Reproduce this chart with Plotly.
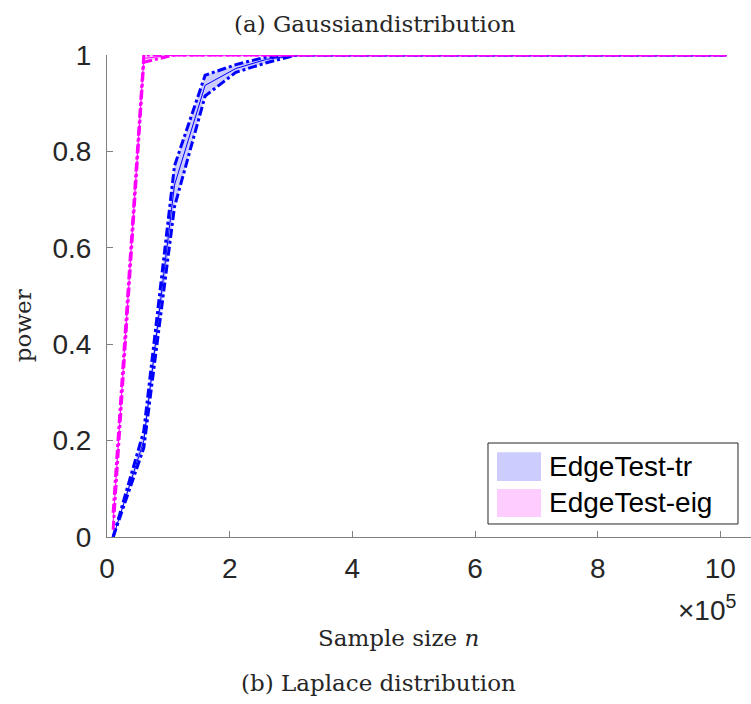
import plotly.graph_objects as go

# Sample sizes (in units of 1e5)
n_vals = [0.1, 0.6, 1.1, 1.6, 2.1, 2.6, 3.1, 3.6, 4.1, 4.6, 5.1, 5.6, 6.1, 6.6, 7.1, 7.6, 8.1, 8.6, 9.1, 9.6, 10.1]

tr_mean = [0.0, 0.20, 0.73, 0.937, 0.972, 0.991, 1.0, 1.0, 1.0, 1.0, 1.0, 1.0, 1.0, 1.0, 1.0, 1.0, 1.0, 1.0, 1.0, 1.0, 1.0]
tr_upper = [0.0, 0.22, 0.77, 0.958, 0.980, 0.996, 1.0, 1.0, 1.0, 1.0, 1.0, 1.0, 1.0, 1.0, 1.0, 1.0, 1.0, 1.0, 1.0, 1.0, 1.0]
tr_lower = [0.0, 0.185, 0.685, 0.915, 0.964, 0.984, 1.0, 1.0, 1.0, 1.0, 1.0, 1.0, 1.0, 1.0, 1.0, 1.0, 1.0, 1.0, 1.0, 1.0, 1.0]

eig_mean = [0.03, 0.993, 1.0, 1.0, 1.0, 1.0, 1.0, 1.0, 1.0, 1.0, 1.0, 1.0, 1.0, 1.0, 1.0, 1.0, 1.0, 1.0, 1.0, 1.0, 1.0]
eig_upper = [0.05, 1.0, 1.0, 1.0, 1.0, 1.0, 1.0, 1.0, 1.0, 1.0, 1.0, 1.0, 1.0, 1.0, 1.0, 1.0, 1.0, 1.0, 1.0, 1.0, 1.0]
eig_lower = [0.015, 0.985, 1.0, 1.0, 1.0, 1.0, 1.0, 1.0, 1.0, 1.0, 1.0, 1.0, 1.0, 1.0, 1.0, 1.0, 1.0, 1.0, 1.0, 1.0, 1.0]

series_names = ["EdgeTest-tr", "EdgeTest-eig"]
x_ticks = [0, 2, 4, 6, 8, 10]
y_ticks = [0, 0.2, 0.4, 0.6, 0.8, 1]
y_tick_text = ["0", "0.2", "0.4", "0.6", "0.8", "1"]

DASH = "9px,3px,3px,3px"
fig = go.Figure()

def add_series(mean, upper, lower, line_color, fill_color):
    fig.add_trace(go.Scatter(x=n_vals, y=lower, mode="lines", line=dict(width=0, color=line_color),
                             showlegend=False, hoverinfo="skip"))
    fig.add_trace(go.Scatter(x=n_vals, y=upper, mode="lines", line=dict(width=0, color=line_color),
                             fill="tonexty", fillcolor=fill_color, showlegend=False, hoverinfo="skip"))
    fig.add_trace(go.Scatter(x=n_vals, y=mean, mode="lines", line=dict(width=1, color=line_color),
                             showlegend=False))
    fig.add_trace(go.Scatter(x=n_vals, y=upper, mode="lines", line=dict(width=3, color=line_color, dash=DASH),
                             showlegend=False))
    fig.add_trace(go.Scatter(x=n_vals, y=lower, mode="lines", line=dict(width=3, color=line_color, dash=DASH),
                             showlegend=False))

add_series(tr_mean, tr_upper, tr_lower, "#0000ff", "rgba(0,0,255,0.2)")
add_series(eig_mean, eig_upper, eig_lower, "#ff00ff", "rgba(255,0,255,0.2)")

sans = "Liberation Sans, Arial, sans-serif"
tick_font = dict(family=sans, size=28, color="#262626")
serif = "DejaVu Serif, Liberation Serif, serif"
serif_size = 23

fig.update_layout(
    width=751, height=704,
    margin=dict(l=107, r=0, t=55, b=167),
    plot_bgcolor="white", paper_bgcolor="white",
    showlegend=False,
    xaxis=dict(range=[0, 10.5], tickvals=x_ticks, ticktext=[str(v) for v in x_ticks],
               showgrid=False, zeroline=False, showline=True, linecolor="#808080", linewidth=1,
               ticks="inside", ticklen=6, tickcolor="#808080", tickfont=tick_font, mirror=False,
               ticklabelstandoff=6),
    yaxis=dict(range=[0, 1], tickvals=y_ticks, ticktext=y_tick_text,
               showgrid=False, zeroline=False, showline=True, linecolor="#808080", linewidth=1,
               ticks="inside", ticklen=6, tickcolor="#808080", tickfont=tick_font, mirror=False,
               ticklabelstandoff=9),
)

def txt(text, x, y, size, family, color="#262626", angle=0, xanchor="center"):
    return dict(text=text, x=x, y=y, xref="paper", yref="paper", xanchor=xanchor, yanchor="middle",
                textangle=angle, showarrow=False, font=dict(family=family, size=size, color=color))

ann = [
    txt("(a) Gaussiandistribution", 0.416, 1.064, serif_size, serif),
    txt("power", -0.130, 0.438, serif_size, serif, angle=-90),
    txt("Sample size <i>n</i>", 0.452, -0.2095, serif_size, serif),
    txt("(b) Laplace distribution", 0.421, -0.303, serif_size, serif),
    txt("×10<sup>5</sup>", 0.933, -0.147, 28, sans),
]

# legend drawn manually
shapes = [
    dict(type="rect", xref="paper", yref="paper", x0=0.5916, x1=0.9798, y0=0.027, y1=0.195,
         line=dict(color="#262626", width=1), fillcolor="white", layer="above"),
    dict(type="rect", xref="paper", yref="paper", x0=0.6056, x1=0.6739, y0=0.116, y1=0.176,
         line=dict(width=0), fillcolor="#ccccff", layer="above"),
    dict(type="rect", xref="paper", yref="paper", x0=0.6056, x1=0.6739, y0=0.0415, y1=0.0996,
         line=dict(width=0), fillcolor="#ffccff", layer="above"),
]
for name, yy in zip(series_names, [0.147, 0.072]):
    ann.append(txt(name, 0.683, yy, 28, sans, color="black", xanchor="left"))

fig.update_layout(annotations=ann, shapes=shapes)
fig.write_html("out.html")
